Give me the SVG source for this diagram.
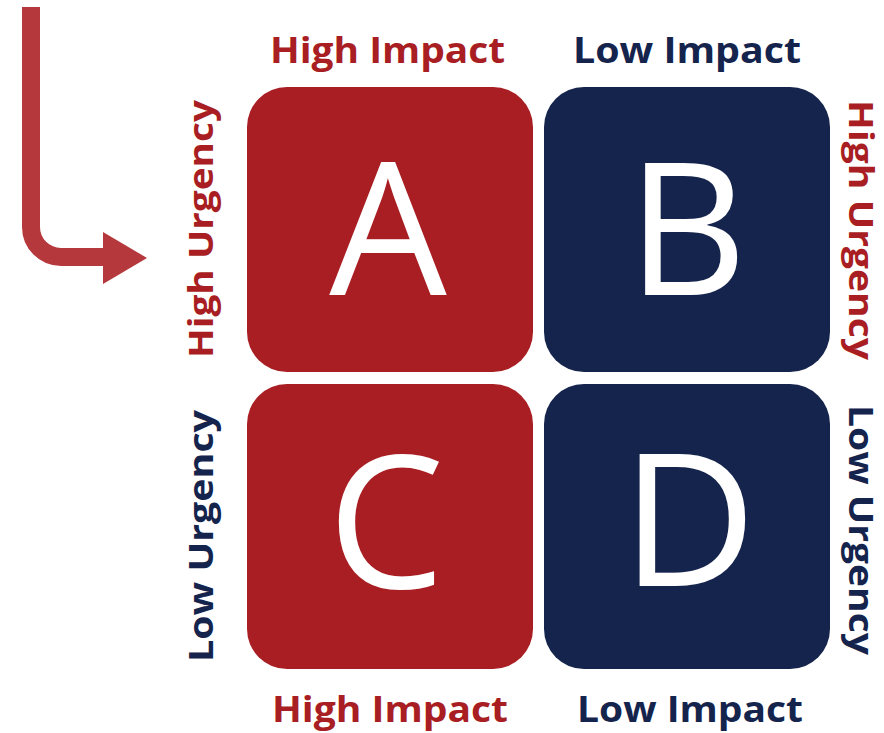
<svg xmlns="http://www.w3.org/2000/svg" width="884" height="733" viewBox="0 0 884 733">
<style>
.red{fill:#a81e23}
.navy{fill:#15244c}
.lab{font-family:"Open Sans","Liberation Sans",sans-serif;font-weight:bold;font-size:36px}
.vlab{font-family:"Open Sans","Liberation Sans",sans-serif;font-weight:bold;font-size:34px}
.big{font-family:"Open Sans","Liberation Sans",sans-serif;font-size:186px;fill:#ffffff;text-anchor:middle}
</style>
<rect width="884" height="733" fill="#ffffff"/>
<g id="connectors">
<path d="M31,7 V227 A30,30 0 0 0 61,257 H108" fill="none" stroke="#b5383d" stroke-width="18"/>
<polygon points="103,232 147,258 103,284" fill="#b5383d"/>
</g>
<g id="nodeA"><rect x="247" y="87" width="286" height="285" rx="40" class="red"/><text x="388" y="295" class="big">A</text></g>
<g id="nodeB"><rect x="544" y="87" width="286" height="285" rx="40" class="navy"/><text x="687" y="295" class="big">B</text></g>
<g id="nodeC"><rect x="247" y="384" width="286" height="285" rx="40" class="red"/><text x="386" y="588" class="big">C</text></g>
<g id="nodeD"><rect x="544" y="384" width="286" height="285" rx="40" class="navy"/><text x="689" y="586" class="big">D</text></g>
<g id="labels">
<text x="270" y="63" class="lab red" textLength="235" lengthAdjust="spacingAndGlyphs">High Impact</text>
<text x="573" y="63" class="lab navy" textLength="228" lengthAdjust="spacingAndGlyphs">Low Impact</text>
<text x="272" y="722" class="lab red" textLength="236" lengthAdjust="spacingAndGlyphs">High Impact</text>
<text x="577" y="722" class="lab navy" textLength="226" lengthAdjust="spacingAndGlyphs">Low Impact</text>
<text transform="translate(213,358) rotate(-90)" class="vlab red" textLength="258" lengthAdjust="spacingAndGlyphs">High Urgency</text>
<text transform="translate(213,662) rotate(-90)" class="vlab navy" textLength="252" lengthAdjust="spacingAndGlyphs">Low Urgency</text>
<text transform="translate(849,100) rotate(90)" class="vlab red" textLength="260" lengthAdjust="spacingAndGlyphs">High Urgency</text>
<text transform="translate(849,405) rotate(90)" class="vlab navy" textLength="250" lengthAdjust="spacingAndGlyphs">Low Urgency</text>
</g>
</svg>
